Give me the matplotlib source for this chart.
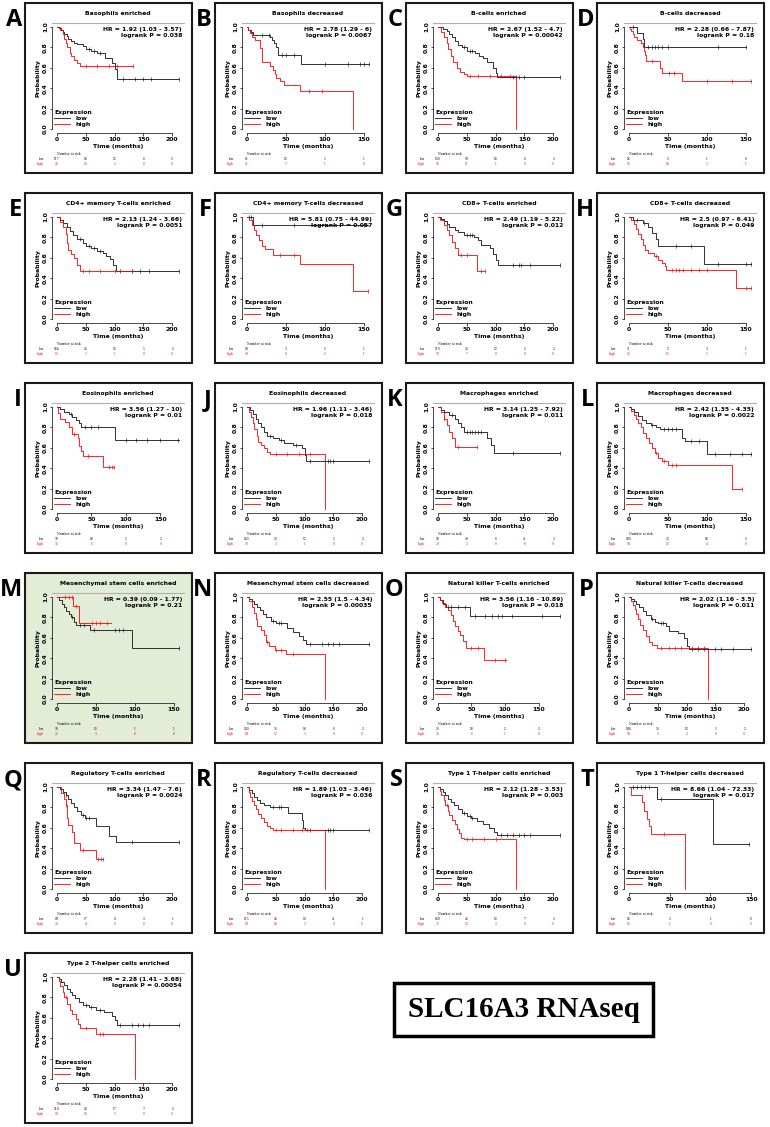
import numpy as np
import matplotlib.pyplot as plt
from matplotlib.patches import Rectangle
from matplotlib.transforms import blended_transform_factory

letters = list("ABCDEFGHIJKLMNOPQRSTU")

titles = ["Basophils enriched", "Basophils decreased", "B-cells enriched", "B-cells decreased",
          "CD4+ memory T-cells enriched", "CD4+ memory T-cells decreased",
          "CD8+ T-cells enriched", "CD8+ T-cells decreased",
          "Eosinophils enriched", "Eosinophils decreased", "Macrophages enriched", "Macrophages decreased",
          "Mesenchymal stem cells enriched", "Mesenchymal stem cells decreased",
          "Natural killer T-cells enriched", "Natural killer T-cells decreased",
          "Regulatory T-cells enriched", "Regulatory T-cells decreased",
          "Type 1 T-helper cells enriched", "Type 1 T-helper cells decreased",
          "Type 2 T-helper cells enriched"]

hr_text = ["HR = 1.92 (1.03 - 3.57)", "HR = 2.78 (1.29 - 6)", "HR = 2.67 (1.52 - 4.7)", "HR = 2.28 (0.66 - 7.87)",
           "HR = 2.13 (1.24 - 3.66)", "HR = 5.81 (0.75 - 44.99)", "HR = 2.49 (1.19 - 5.22)", "HR = 2.5 (0.97 - 6.41)",
           "HR = 3.56 (1.27 - 10)", "HR = 1.96 (1.11 - 3.46)", "HR = 3.14 (1.25 - 7.92)", "HR = 2.42 (1.35 - 4.35)",
           "HR = 0.39 (0.09 - 1.77)", "HR = 2.55 (1.5 - 4.34)", "HR = 3.56 (1.16 - 10.89)", "HR = 2.02 (1.16 - 3.5)",
           "HR = 3.34 (1.47 - 7.6)", "HR = 1.89 (1.03 - 3.46)", "HR = 2.12 (1.28 - 3.53)", "HR = 8.66 (1.04 - 72.33)",
           "HR = 2.28 (1.41 - 3.68)"]

p_text = ["0.038", "0.0067", "0.00042", "0.18", "0.0051", "0.057", "0.012", "0.049",
          "0.01", "0.018", "0.011", "0.0022", "0.21", "0.00035", "0.018", "0.011",
          "0.0024", "0.036", "0.003", "0.017", "0.00054"]

# longest follow-up per panel (months)
tmax = [212, 157, 212, 157, 212, 157, 212, 157, 177, 212, 212, 157,
        157, 212, 182, 212, 212, 212, 212, 150, 212]

# low expression curves (step drop times / survival after drop)
low_t = [[3, 7, 10, 13, 17, 20, 25, 30, 35, 45, 50, 60, 70, 83, 96, 100, 104],
         [2, 5, 8, 30, 32, 35, 37, 40, 70],
         [8, 15, 20, 25, 30, 35, 42, 50, 65, 72, 78, 85, 95, 100, 103],
         [11, 18, 20],
         [5, 10, 17, 22, 28, 35, 45, 50, 60, 70, 80, 85, 92, 97, 102],
         [8],
         [5, 10, 15, 20, 30, 35, 45, 62, 70, 75, 90, 95, 100, 105],
         [5, 18, 25, 30, 35, 38, 96],
         [5, 10, 18, 22, 28, 32, 35, 84],
         [5, 10, 15, 20, 25, 30, 35, 45, 55, 65, 80, 95, 100, 103],
         [5, 10, 20, 30, 35, 40, 45, 85, 92, 97],
         [3, 7, 12, 17, 22, 28, 35, 40, 68, 72, 100],
         [3, 6, 9, 12, 15, 18, 22, 25, 43, 97],
         [3, 8, 12, 18, 22, 28, 33, 42, 50, 70, 80, 90, 97, 102],
         [3, 8, 12, 48],
         [3, 8, 12, 18, 25, 30, 38, 45, 50, 65, 70, 85, 95, 100, 105],
         [5, 10, 15, 20, 25, 30, 35, 42, 48, 68, 90, 102],
         [3, 8, 12, 17, 22, 30, 40, 72, 95, 98, 100],
         [3, 8, 13, 18, 23, 28, 35, 42, 50, 58, 67, 78, 88, 98, 103],
         [35, 103],
         [3, 7, 12, 17, 22, 27, 32, 38, 45, 55, 68, 82, 95, 100, 105]]
low_s = [[0.99, 0.97, 0.95, 0.93, 0.91, 0.88, 0.86, 0.84, 0.83, 0.81, 0.78, 0.77, 0.75, 0.70, 0.65, 0.59, 0.49],
         [0.97, 0.95, 0.92, 0.90, 0.87, 0.84, 0.80, 0.73, 0.64],
         [0.98, 0.96, 0.93, 0.90, 0.86, 0.82, 0.80, 0.77, 0.75, 0.72, 0.70, 0.66, 0.60, 0.55, 0.51],
         [0.94, 0.88, 0.80],
         [0.97, 0.94, 0.90, 0.86, 0.82, 0.78, 0.75, 0.72, 0.70, 0.67, 0.65, 0.62, 0.59, 0.53, 0.47],
         [0.92],
         [0.98, 0.96, 0.93, 0.90, 0.87, 0.85, 0.82, 0.80, 0.77, 0.73, 0.70, 0.64, 0.58, 0.53],
         [0.97, 0.94, 0.90, 0.84, 0.78, 0.72, 0.54],
         [0.98, 0.95, 0.93, 0.90, 0.87, 0.84, 0.80, 0.68],
         [0.97, 0.93, 0.88, 0.84, 0.80, 0.76, 0.72, 0.70, 0.68, 0.65, 0.63, 0.60, 0.53, 0.47],
         [0.97, 0.95, 0.92, 0.88, 0.84, 0.80, 0.76, 0.70, 0.63, 0.55],
         [0.98, 0.95, 0.91, 0.87, 0.84, 0.82, 0.80, 0.78, 0.70, 0.67, 0.54],
         [0.97, 0.93, 0.90, 0.86, 0.83, 0.80, 0.76, 0.73, 0.68, 0.50],
         [0.98, 0.96, 0.93, 0.90, 0.87, 0.83, 0.80, 0.77, 0.75, 0.70, 0.66, 0.62, 0.58, 0.54],
         [0.97, 0.93, 0.90, 0.81],
         [0.98, 0.96, 0.93, 0.90, 0.86, 0.82, 0.78, 0.76, 0.75, 0.72, 0.67, 0.65, 0.60, 0.52, 0.49],
         [0.98, 0.95, 0.92, 0.88, 0.84, 0.80, 0.77, 0.73, 0.70, 0.62, 0.52, 0.46],
         [0.97, 0.94, 0.90, 0.87, 0.84, 0.82, 0.80, 0.75, 0.68, 0.60, 0.58],
         [0.98, 0.95, 0.92, 0.88, 0.85, 0.82, 0.78, 0.75, 0.72, 0.70, 0.67, 0.64, 0.60, 0.56, 0.53],
         [0.88, 0.44],
         [0.98, 0.95, 0.92, 0.88, 0.85, 0.82, 0.79, 0.76, 0.73, 0.71, 0.68, 0.66, 0.62, 0.58, 0.53]]
low_end = [212, 157, 212, 150, 212, 155, 212, 157, 177, 212, 212, 157,
           157, 212, 182, 212, 212, 212, 212, 148, 212]
low_cens = [[55, 65, 75, 115, 135, 150, 163, 212],
            [20, 28, 45, 50, 60, 100, 130, 145, 150, 157],
            [45, 55, 60, 130, 135, 140, 150, 212],
            [5, 25, 30, 33, 37, 42, 50, 115, 150],
            [40, 55, 65, 75, 110, 130, 145, 160, 212],
            [3, 5, 20, 60, 100, 150],
            [50, 55, 60, 130, 140, 145, 160, 212],
            [10, 20, 60, 80, 115, 150, 157],
            [20, 40, 50, 60, 100, 115, 130, 150, 175],
            [40, 60, 85, 110, 140, 145, 150, 212],
            [25, 50, 55, 60, 65, 70, 75, 130, 212],
            [30, 45, 50, 55, 60, 80, 90, 110, 130, 145, 157],
            [20, 30, 35, 48, 75, 80, 85, 157],
            [45, 55, 60, 110, 130, 140, 150, 160, 212],
            [15, 20, 30, 40, 55, 70, 80, 90, 95, 110, 155, 182],
            [40, 55, 60, 110, 120, 130, 150, 160, 180, 212],
            [15, 45, 50, 55, 130, 212],
            [45, 55, 60, 110, 140, 145, 150, 212],
            [45, 55, 60, 110, 120, 130, 140, 150, 160, 212],
            [5, 10, 15, 20, 25, 40, 148],
            [50, 60, 75, 110, 130, 140, 150, 160, 212]]

# high expression curves
high_t = [[5, 10, 13, 15, 18, 22, 25, 30, 35, 40],
          [2, 4, 6, 10, 17, 19, 20, 30, 33, 36, 38, 42, 48, 68, 136],
          [5, 10, 15, 18, 22, 27, 33, 38, 45, 50, 136],
          [1, 3, 5, 7, 10, 15, 18, 20, 21, 22, 40, 42, 68],
          [5, 10, 15, 17, 20, 25, 30, 35, 40],
          [3, 6, 9, 12, 15, 20, 23, 33, 68, 136],
          [3, 10, 15, 20, 25, 30, 35, 68],
          [3, 6, 9, 12, 15, 18, 21, 25, 32, 38, 43, 46, 48, 137],
          [2, 5, 12, 17, 22, 30, 32, 35, 38, 67],
          [3, 7, 10, 13, 17, 20, 25, 30, 35, 40, 136],
          [5, 10, 15, 20, 25, 30],
          [3, 6, 9, 12, 15, 18, 22, 26, 30, 33, 37, 42, 50, 133],
          [21, 28],
          [3, 8, 12, 15, 18, 25, 30, 33, 38, 48, 68, 136],
          [3, 6, 10, 15, 20, 22, 25, 30, 33, 38, 42, 68],
          [3, 7, 10, 13, 16, 20, 25, 30, 35, 40, 48, 137],
          [7, 12, 15, 18, 20, 27, 30, 40, 68],
          [3, 6, 9, 12, 15, 20, 25, 30, 35, 40, 45, 136],
          [3, 6, 10, 13, 17, 20, 25, 30, 33, 36, 40, 45, 136],
          [3, 16, 18, 22, 25, 27, 69],
          [3, 6, 10, 13, 17, 22, 27, 33, 36, 40, 68, 136]]
high_s = [[0.97, 0.93, 0.88, 0.84, 0.80, 0.75, 0.72, 0.68, 0.65, 0.62],
          [0.97, 0.94, 0.90, 0.87, 0.79, 0.73, 0.66, 0.62, 0.58, 0.54, 0.50, 0.47, 0.43, 0.37, 0.0],
          [0.95, 0.90, 0.84, 0.78, 0.72, 0.66, 0.60, 0.56, 0.54, 0.52, 0.0],
          [0.98, 0.96, 0.93, 0.90, 0.87, 0.84, 0.80, 0.77, 0.73, 0.67, 0.60, 0.55, 0.47],
          [0.95, 0.90, 0.83, 0.75, 0.68, 0.64, 0.60, 0.53, 0.47],
          [0.97, 0.92, 0.87, 0.82, 0.77, 0.72, 0.69, 0.63, 0.54, 0.27],
          [0.97, 0.92, 0.87, 0.82, 0.76, 0.70, 0.63, 0.47],
          [0.97, 0.93, 0.88, 0.83, 0.78, 0.73, 0.68, 0.65, 0.62, 0.58, 0.55, 0.52, 0.48, 0.30],
          [0.94, 0.88, 0.85, 0.80, 0.74, 0.70, 0.62, 0.57, 0.52, 0.41],
          [0.95, 0.90, 0.84, 0.78, 0.72, 0.66, 0.63, 0.60, 0.56, 0.54, 0.0],
          [0.95, 0.88, 0.82, 0.76, 0.70, 0.61],
          [0.96, 0.92, 0.88, 0.84, 0.80, 0.75, 0.70, 0.65, 0.60, 0.55, 0.50, 0.47, 0.43, 0.20],
          [0.91, 0.75],
          [0.96, 0.90, 0.84, 0.78, 0.72, 0.68, 0.63, 0.56, 0.52, 0.48, 0.44, 0.0],
          [0.97, 0.94, 0.90, 0.87, 0.82, 0.77, 0.72, 0.67, 0.63, 0.57, 0.50, 0.38],
          [0.96, 0.92, 0.88, 0.83, 0.78, 0.73, 0.68, 0.62, 0.56, 0.53, 0.50, 0.0],
          [0.94, 0.88, 0.82, 0.70, 0.63, 0.56, 0.45, 0.38, 0.29],
          [0.95, 0.90, 0.86, 0.82, 0.78, 0.74, 0.70, 0.66, 0.62, 0.60, 0.58, 0.0],
          [0.96, 0.92, 0.87, 0.82, 0.77, 0.73, 0.68, 0.64, 0.59, 0.55, 0.50, 0.49, 0.0],
          [0.92, 0.85, 0.77, 0.69, 0.62, 0.54, 0.0],
          [0.96, 0.91, 0.85, 0.80, 0.74, 0.68, 0.64, 0.59, 0.54, 0.50, 0.44, 0.0]]
high_end = [132, 136, 136, 157, 130, 155, 82, 157, 83, 136, 68, 145,
            70, 136, 102, 137, 80, 136, 136, 69, 136]
high_cens = [[50, 70, 90, 105, 132], [80, 97], [55, 70, 90, 110, 125], [30, 52, 58, 100, 132, 157],
             [45, 55, 75, 100, 130], [42, 60, 155], [40, 50, 75, 82],
             [35, 55, 60, 65, 70, 80, 90, 100, 150, 157], [25, 45, 75, 80, 83], [50, 70, 90, 110],
             [10, 35, 68], [35, 45, 55, 60, 145], [10, 15, 20, 25, 45, 50, 55, 65], [35, 50, 60, 80],
             [50, 60, 85, 100], [55, 70, 80, 90, 110, 120, 130], [15, 45, 72, 76, 80],
             [50, 60, 80, 95, 105], [15, 50, 60, 80, 100], [43], [15, 50, 75, 80]]

# number at risk at 0, 50, 100, ...
risk_low = [[117, 16, 12, 6, 3], [61, 13, 5, 1], [139, 58, 14, 6, 2], [16, 3, 1, 0],
            [164, 42, 13, 5, 2], [18, 3, 3, 1], [119, 34, 12, 5, 2], [31, 3, 3, 1],
            [50, 10, 5, 2], [163, 36, 12, 5, 2], [82, 20, 6, 4, 2], [109, 23, 10, 3],
            [50, 13, 1, 1], [149, 36, 16, 6, 2], [38, 10, 2, 2], [184, 36, 13, 5, 2],
            [68, 17, 8, 3, 1], [115, 24, 13, 4, 1], [160, 46, 13, 7, 2], [16, 2, 1, 0],
            [218, 43, 17, 7, 2]]
risk_high = [[85, 13, 2, 0, 0], [41, 7, 1, 0], [86, 11, 1, 0, 0], [56, 10, 3, 1],
             [63, 5, 1, 0, 0], [39, 8, 2, 1], [59, 7, 0, 0, 0], [95, 15, 5, 1],
             [35, 6, 0, 0], [59, 3, 1, 0, 0], [29, 2, 0, 0, 0], [94, 13, 4, 0],
             [22, 3, 0, 0], [84, 12, 3, 0, 0], [38, 6, 1, 0], [54, 3, 2, 0, 0],
             [34, 4, 0, 0, 0], [88, 10, 3, 0, 0], [75, 12, 3, 0, 0], [13, 1, 0, 0],
             [80, 13, 3, 0, 0]]

W, H = 770.0, 1127.0
fig = plt.figure(figsize=(W / 100, H / 100), dpi=100)

col_left = [25, 215, 406, 597]
row_top = [3, 193, 383, 573, 763, 953]
box_w, box_h = 167, 170
fs = 4.4
red = '#ff0000'


def frac(x, y, w, h):
    # pixel box (top-left origin) -> figure fraction
    return [x / W, 1 - (y + h) / H, w / W, h / H]


def surv_at(t, s, x):
    idx = np.searchsorted(t, x, side='right') - 1
    return np.asarray(s)[idx]


for i in range(21):
    r, c = divmod(i, 4)
    bx, by = col_left[c], row_top[r]
    face = '#e3ecd7' if letters[i] == 'M' else 'white'
    fig.add_artist(Rectangle(frac(bx, by, box_w, box_h)[:2], box_w / W, box_h / H,
                             transform=fig.transFigure, facecolor=face,
                             edgecolor='#1a1a1a', lw=1.5, zorder=0))
    fig.text((bx - 3) / W, 1 - (by + 5) / H, letters[i], ha='right', va='top',
             fontsize=17, fontweight='bold', family='Open Sans')

    ax = fig.add_axes(frac(bx + 27, by + 20, 132, 110))
    ax.patch.set_alpha(0)
    T = tmax[i]
    ax.set_xlim(-0.04 * T, 1.04 * T)
    ax.set_ylim(-0.04, 1.04)
    xt = np.arange(0, T + 1, 50)

    curves = [(low_t[i], low_s[i], low_end[i], low_cens[i], '#111111'),
              (high_t[i], high_s[i], high_end[i], high_cens[i], red)]
    handles = []
    for tt, ss, te, cc, col in curves:
        t = np.array([0] + tt + [te])
        s = np.array([1.0] + ss + [ss[-1]])
        ln, = ax.step(t, s, where='post', color=col, lw=0.6)
        handles.append(ln)
        ax.plot(cc, surv_at(t, s, cc), ls='none', marker='|', ms=2.4, mew=0.45, color=col)

    ax.spines['right'].set_visible(False)
    ax.spines['top'].set_color('#b0b0b0')
    ax.spines['top'].set_linewidth(0.8)
    for sp in ['left', 'bottom']:
        ax.spines[sp].set_linewidth(0.5)
    ax.spines['left'].set_bounds(0, 1)
    ax.spines['bottom'].set_bounds(0, xt[-1])
    ax.set_xticks(xt)
    ax.set_xticklabels([str(v) for v in xt], fontsize=fs, fontweight='bold')
    yt = np.arange(0, 1.01, 0.2)
    ax.set_yticks(yt)
    ax.set_yticklabels(['%.1f' % v for v in yt], fontsize=fs, fontweight='bold',
                       rotation=90, va='center')
    ax.tick_params(length=1.8, width=0.5, pad=1.2)
    ax.set_xlabel('Time (months)', fontsize=fs, fontweight='bold', labelpad=1.5)
    ax.set_ylabel('Probability', fontsize=fs, fontweight='bold', labelpad=1.5)

    ax.text(0.5, 1.09, titles[i], transform=ax.transAxes, ha='center', va='center',
            fontsize=fs, fontweight='bold')
    ax.text(0.985, 0.945, hr_text[i], transform=ax.transAxes, ha='right', va='center',
            fontsize=fs, fontweight='bold')
    ax.text(0.985, 0.885, 'logrank P = ' + p_text[i], transform=ax.transAxes, ha='right',
            va='center', fontsize=fs, fontweight='bold')

    ax.legend(handles, ['low', 'high'], title='Expression', loc='lower left',
              bbox_to_anchor=(0.0, 0.03), frameon=False,
              prop={'size': fs, 'weight': 'bold'},
              title_fontproperties={'size': fs, 'weight': 'bold'}, alignment='left',
              handlelength=2.6, handletextpad=0.8, labelspacing=0.15,
              borderpad=0.1, borderaxespad=0.3)

    tr = blended_transform_factory(ax.transData, ax.transAxes)
    ax.text(0, -0.195, 'Number at risk', transform=tr, ha='left', va='center',
            fontsize=2.2, family='DejaVu Serif')
    ax.text(-0.06, -0.235, 'low', transform=ax.transAxes, ha='right', va='center',
            fontsize=2.2, family='DejaVu Serif')
    ax.text(-0.06, -0.28, 'high', transform=ax.transAxes, ha='right', va='center',
            fontsize=2.2, family='DejaVu Serif', color=red)
    for j, x in enumerate(xt):
        ax.text(x, -0.235, str(risk_low[i][j]), transform=tr, ha='center', va='center',
                fontsize=2.2, family='DejaVu Serif')
        ax.text(x, -0.28, str(risk_high[i][j]), transform=tr, ha='center', va='center',
                fontsize=2.2, family='DejaVu Serif', color=red)

# gene label box
fig.add_artist(Rectangle(frac(394, 983, 259, 53)[:2], 259 / W, 53 / H,
                         transform=fig.transFigure, facecolor='white',
                         edgecolor='black', lw=2.5))
fig.text(523.5 / W, 1 - 1009.5 / H, 'SLC16A3 RNAseq', ha='center', va='center',
         fontsize=21, fontweight='bold', family='Liberation Serif')

fig.savefig('out.png', dpi=100)
